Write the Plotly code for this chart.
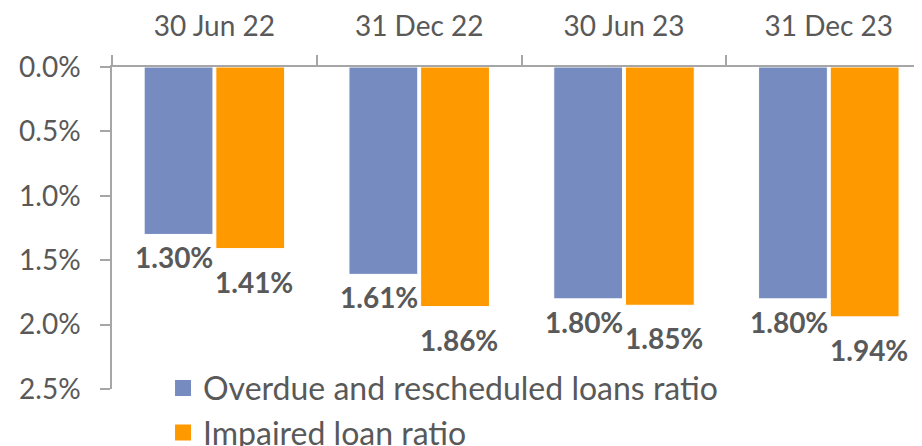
import plotly.graph_objects as go

categories = ["30 Jun 22", "31 Dec 22", "30 Jun 23", "31 Dec 23"]
overdue = [1.30, 1.61, 1.80, 1.80]
impaired = [1.41, 1.86, 1.85, 1.94]
y_ticks = [0.0, 0.5, 1.0, 1.5, 2.0, 2.5]
series_names = ["Overdue and rescheduled loans ratio", "Impaired loan ratio"]

BLUE = "#768CC0"
ORANGE = "#FF9900"
GRAY = "#595959"
AXIS = "#A6A6A6"
FONT = "Lato"

fig = go.Figure()
fig.add_trace(go.Bar(x=categories, y=overdue, name=series_names[0], marker=dict(color=BLUE, line=dict(color="white", width=1)), showlegend=False))
fig.add_trace(go.Bar(x=categories, y=impaired, name=series_names[1], marker=dict(color=ORANGE, line=dict(color="white", width=1)), showlegend=False))

# legend entries
for nm, col in zip(series_names, [BLUE, ORANGE]):
    fig.add_trace(go.Scatter(x=[None], y=[None], mode="markers", name=nm, legendgroup=nm,
                             marker=dict(symbol="square", size=20, color=col)))

# data labels
for vals, xs in ((overdue, -40), (impaired, 40)):
    ys = -23 if xs < 0 else -33
    for c, v in zip(categories, vals):
        fig.add_annotation(x=c, y=v, xref="x", yref="y", text=f"{v:.2f}%", showarrow=False,
                           xshift=xs, yshift=ys, font=dict(family=FONT, size=28, color=GRAY, weight="bold"))

fig.update_layout(
    width=914, height=438,
    margin=dict(l=104, r=0, t=59, b=57, autoexpand=False),
    paper_bgcolor="white", plot_bgcolor="white",
    barmode="group", bargap=0.3, bargroupgap=0.04,
    font=dict(family=FONT, size=28, color=GRAY),
    legend=dict(x=0.063, y=0.088, xanchor="left", yanchor="top", orientation="v",
                font=dict(family=FONT, size=32, color=GRAY), bgcolor="rgba(0,0,0,0)",
                tracegroupgap=0, itemwidth=30),
    xaxis=dict(side="top", type="category", range=[-0.5, 3.455], showline=True, linecolor=AXIS, linewidth=1.5,
               ticks="outside", tickson="boundaries", ticklen=10, tickcolor=AXIS, tickwidth=1.5,
               showgrid=False, ticklabelstandoff=18, automargin=False,
               tickfont=dict(family=FONT, size=28, color=GRAY)),
    yaxis=dict(range=[2.5, 0], tickvals=y_ticks, ticktext=[f"{t:.1f}%" for t in y_ticks],
               showline=True, linecolor=AXIS, linewidth=1.5, ticks="outside", ticklen=10,
               tickcolor=AXIS, tickwidth=1.5, showgrid=False, zeroline=False, ticklabelstandoff=14,
               automargin=False, tickfont=dict(family=FONT, size=28, color=GRAY)),
    yaxis2=dict(range=[2.5, 0], overlaying="y", side="left", tickvals=y_ticks, showticklabels=False,
                ticks="inside", ticklen=10, tickcolor=AXIS, tickwidth=1.5, showgrid=False, zeroline=False,
                showline=False, automargin=False),
)
fig.write_html("out.html")
